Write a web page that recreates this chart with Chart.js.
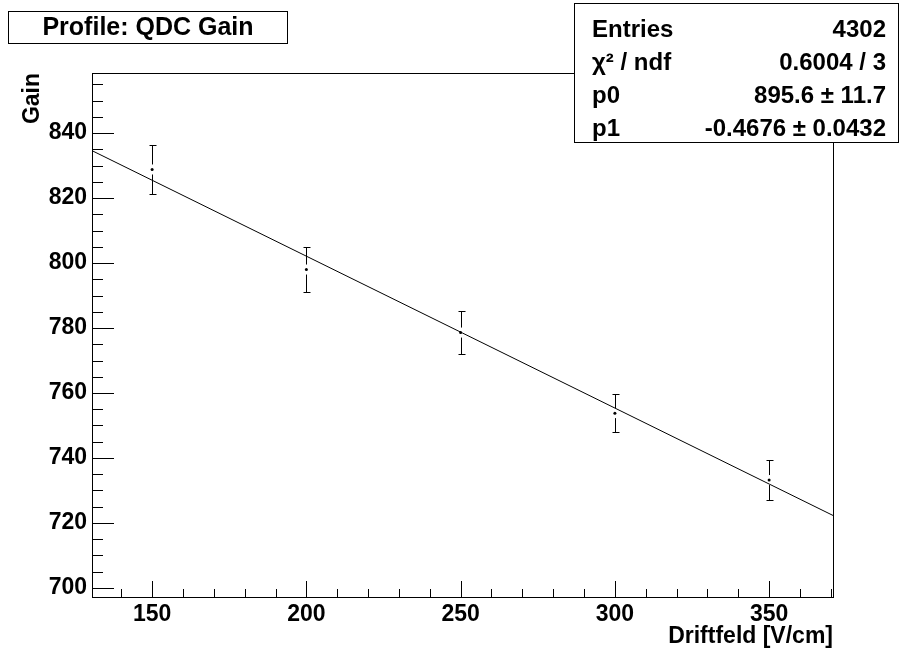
<!DOCTYPE html>
<html>
<head>
<meta charset="utf-8">
<title>Profile: QDC Gain</title>
<script src="https://cdn.jsdelivr.net/npm/chart.js@4/dist/chart.umd.min.js"></script>
<style>
    html, body { margin: 0; padding: 0; background: #fff; }
    #wrap { width: 899px; height: 652px; }
</style>
</head>
<body>
<div id="wrap"><canvas id="gainChart" width="899" height="652"></canvas></div>
<script>
// Data
const driftfeld = [150, 200, 250, 300, 350];
const gain = [828.8, 798.0, 778.6, 753.8, 733.2];
const gainErr = [7.6, 7.0, 6.5, 5.9, 6.2];

// Fit line (pol1) end points at the axis edges
const fitX = [130.5, 370.7];
const fitY = [834.6, 722.3];

// Axis ticks
const xTicks = [150, 200, 250, 300, 350];
const yTicks = [700, 720, 740, 760, 780, 800, 820, 840];

// Stats box rows
const statLabels = ['Entries', 'χ² / ndf', 'p0', 'p1'];
const statValues = ['4302', '0.6004 / 3', '895.6 ± 11.7', '-0.4676 ± 0.0432'];

const FONT = '"Liberation Sans", Arial, Helvetica, sans-serif';

// frame + inward ticks like ROOT draws them
const framePlugin = {
    id: 'frame',
    beforeDatasetsDraw(chart) {
        const { ctx, chartArea: a, scales: { x, y } } = chart;
        ctx.save();
        ctx.strokeStyle = '#000';
        ctx.lineWidth = 1;
        ctx.beginPath();
        // x ticks: major every 50, minor every 10
        for (let v = Math.ceil(x.min / 10) * 10; v <= x.max; v += 10) {
            const px = Math.round(x.getPixelForValue(v)) + 0.5;
            const len = v % 50 === 0 ? 16 : 8;
            ctx.moveTo(px, a.bottom);
            ctx.lineTo(px, a.bottom - len);
        }
        // y ticks: major every 20, minor every 5
        for (let v = Math.ceil(y.min / 5) * 5; v <= y.max; v += 5) {
            const py = Math.round(y.getPixelForValue(v)) + 0.5;
            const len = v % 20 === 0 ? 22 : 11;
            ctx.moveTo(a.left, py);
            ctx.lineTo(a.left + len, py);
        }
        ctx.stroke();
        ctx.strokeRect(Math.round(a.left) + 0.5, Math.round(a.top) + 0.5,
            Math.round(a.right - a.left), Math.round(a.bottom - a.top));
        ctx.restore();
    }
};

// vertical error bars with small caps, gap around the marker
const errorBarPlugin = {
    id: 'errorBars',
    afterDatasetsDraw(chart) {
        const { ctx, scales: { x, y } } = chart;
        ctx.save();
        ctx.strokeStyle = '#000';
        ctx.lineWidth = 1;
        ctx.beginPath();
        driftfeld.forEach((xv, i) => {
            const px = Math.round(x.getPixelForValue(xv)) + 0.5;
            const py = y.getPixelForValue(gain[i]);
            const top = Math.round(y.getPixelForValue(gain[i] + gainErr[i])) + 0.5;
            const bot = Math.round(y.getPixelForValue(gain[i] - gainErr[i])) + 0.5;
            ctx.moveTo(px, top); ctx.lineTo(px, py - 5);
            ctx.moveTo(px, py + 5); ctx.lineTo(px, bot);
            ctx.moveTo(px - 3, top); ctx.lineTo(px + 4, top);
            ctx.moveTo(px - 3, bot); ctx.lineTo(px + 4, bot);
        });
        ctx.stroke();
        ctx.restore();
    }
};

// title pave and stats box
const pavesPlugin = {
    id: 'paves',
    afterDraw(chart) {
        const { ctx } = chart;
        ctx.save();
        ctx.lineWidth = 1;
        ctx.strokeStyle = '#000';
        ctx.fillStyle = '#fff';

        ctx.fillRect(8.5, 11.5, 279, 32);
        ctx.strokeRect(8.5, 11.5, 279, 32);
        ctx.fillStyle = '#000';
        ctx.font = 'bold 25px ' + FONT;
        ctx.textAlign = 'center';
        ctx.textBaseline = 'middle';
        ctx.fillText('Profile: QDC Gain', 148, 28);

        ctx.fillStyle = '#fff';
        ctx.fillRect(574.5, 3.5, 324, 139);
        ctx.strokeRect(574.5, 3.5, 324, 139);
        ctx.fillStyle = '#000';
        ctx.font = 'bold 24px ' + FONT;
        const rowY = [30, 63, 96, 129];
        statLabels.forEach((lab, i) => {
            ctx.textAlign = 'left';
            ctx.fillText(lab, 592, rowY[i]);
            ctx.textAlign = 'right';
            ctx.fillText(statValues[i], 886, rowY[i]);
        });
        ctx.restore();
    }
};

const ctx = document.getElementById('gainChart').getContext('2d');
const gainChart = new Chart(ctx, {
    type: 'scatter',
    data: {
        datasets: [
            {
                label: 'Fit',
                type: 'line',
                data: fitX.map((v, i) => ({ x: v, y: fitY[i] })),
                borderColor: '#000',
                borderWidth: 1,
                pointRadius: 0,
                fill: false,
                tension: 0
            },
            {
                label: 'QDC Gain',
                data: driftfeld.map((v, i) => ({ x: v, y: gain[i] })),
                backgroundColor: '#000',
                borderColor: '#000',
                pointRadius: 1.5,
                pointBorderWidth: 0
            }
        ]
    },
    options: {
        responsive: false,
        animation: false,
        events: [],
        layout: { padding: { top: 73, right: 66, left: 0, bottom: 0 } },
        plugins: {
            legend: { display: false },
            tooltip: { enabled: false }
        },
        scales: {
            x: {
                type: 'linear',
                min: fitX[0],
                max: fitX[1],
                grid: { display: false, drawTicks: false },
                border: { display: false },
                afterBuildTicks: s => { s.ticks = xTicks.map(v => ({ value: v })); },
                afterFit: s => { s.height = 55; },
                ticks: {
                    color: '#000',
                    padding: 4,
                    maxRotation: 0,
                    font: { family: FONT, size: 23, weight: 'bold' }
                },
                title: {
                    display: true,
                    text: 'Driftfeld [V/cm]',
                    align: 'end',
                    color: '#000',
                    padding: { top: 0, bottom: 2 },
                    font: { family: FONT, size: 23, weight: 'bold' }
                }
            },
            y: {
                min: 697.2,
                max: 858.5,
                grid: { display: false, drawTicks: false },
                border: { display: false },
                afterBuildTicks: s => { s.ticks = yTicks.map(v => ({ value: v })); },
                afterFit: s => { s.width = 92; },
                ticks: {
                    color: '#000',
                    padding: 5,
                    font: { family: FONT, size: 23, weight: 'bold' }
                },
                title: {
                    display: true,
                    text: 'Gain',
                    align: 'end',
                    color: '#000',
                    padding: 19,
                    font: { family: FONT, size: 23, weight: 'bold' }
                }
            }
        }
    },
    plugins: [framePlugin, errorBarPlugin, pavesPlugin]
});
</script>
</body>
</html>
